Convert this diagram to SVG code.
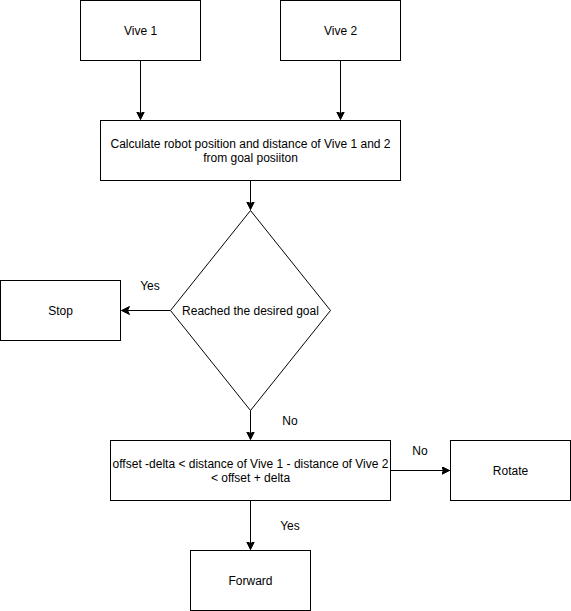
<svg xmlns="http://www.w3.org/2000/svg" width="571" height="611" viewBox="0 0 571 611">
<style>
.box{fill:#fff;stroke:#000;stroke-width:1}
.t{font-family:"Liberation Sans",Arial,sans-serif;font-size:12px;fill:#000;text-anchor:middle}
.c{fill:none;stroke:#000;stroke-width:1}
</style>
<defs>
<marker id="a" markerUnits="userSpaceOnUse" markerWidth="10" markerHeight="10" refX="8" refY="4" orient="auto" viewBox="0 0 10 10">
<path d="M0,0 L8,4 L0,8 L2,4 Z" fill="#000" stroke="#000" stroke-width="1"/>
</marker>
</defs>
<rect width="571" height="611" fill="#fff"/>
<g id="connectors">
<path class="c" d="M140.5,60.5 V119.5" marker-end="url(#a)"/>
<path class="c" d="M340.5,60.5 V119.5" marker-end="url(#a)"/>
<path class="c" d="M250.5,180.5 V209.5" marker-end="url(#a)"/>
<path class="c" d="M170.5,310.5 H121.5" marker-end="url(#a)"/>
<path class="c" d="M250.5,410.5 V439.5" marker-end="url(#a)"/>
<path class="c" d="M390.5,470.5 H449.5" marker-end="url(#a)"/>
<path class="c" d="M250.5,500.5 V549.5" marker-end="url(#a)"/>
<text class="t" x="150" y="290">Yes</text>
<text class="t" x="290" y="425">No</text>
<text class="t" x="420" y="455">No</text>
<text class="t" x="290" y="530">Yes</text>
</g>
<g id="vive1"><rect class="box" x="80.5" y="0.5" width="120" height="60"/><text class="t" x="140.5" y="35">Vive 1</text></g>
<g id="vive2"><rect class="box" x="280.5" y="0.5" width="120" height="60"/><text class="t" x="340.5" y="35">Vive 2</text></g>
<g id="calc"><rect class="box" x="100.5" y="120.5" width="300" height="60"/><text class="t" x="250.5" y="148">Calculate robot position and distance of Vive 1 and 2</text><text class="t" x="250.5" y="162">from goal posiiton</text></g>
<g id="goal"><path class="box" d="M250.5,210.5 L330.5,310.5 L250.5,410.5 L170.5,310.5 Z"/><text class="t" x="250.5" y="315">Reached the desired goal</text></g>
<g id="stop"><rect class="box" x="0.5" y="280.5" width="120" height="60"/><text class="t" x="60.5" y="315">Stop</text></g>
<g id="offset"><rect class="box" x="110.5" y="440.5" width="280" height="60"/><text class="t" x="250.5" y="468">offset -delta &lt; distance of Vive 1 - distance of Vive 2</text><text class="t" x="250.5" y="482">&lt; offset + delta</text></g>
<g id="rotate"><rect class="box" x="450.5" y="440.5" width="120" height="60"/><text class="t" x="510.5" y="475">Rotate</text></g>
<g id="forward"><rect class="box" x="190.5" y="550.5" width="120" height="60"/><text class="t" x="250.5" y="585">Forward</text></g>
</svg>
